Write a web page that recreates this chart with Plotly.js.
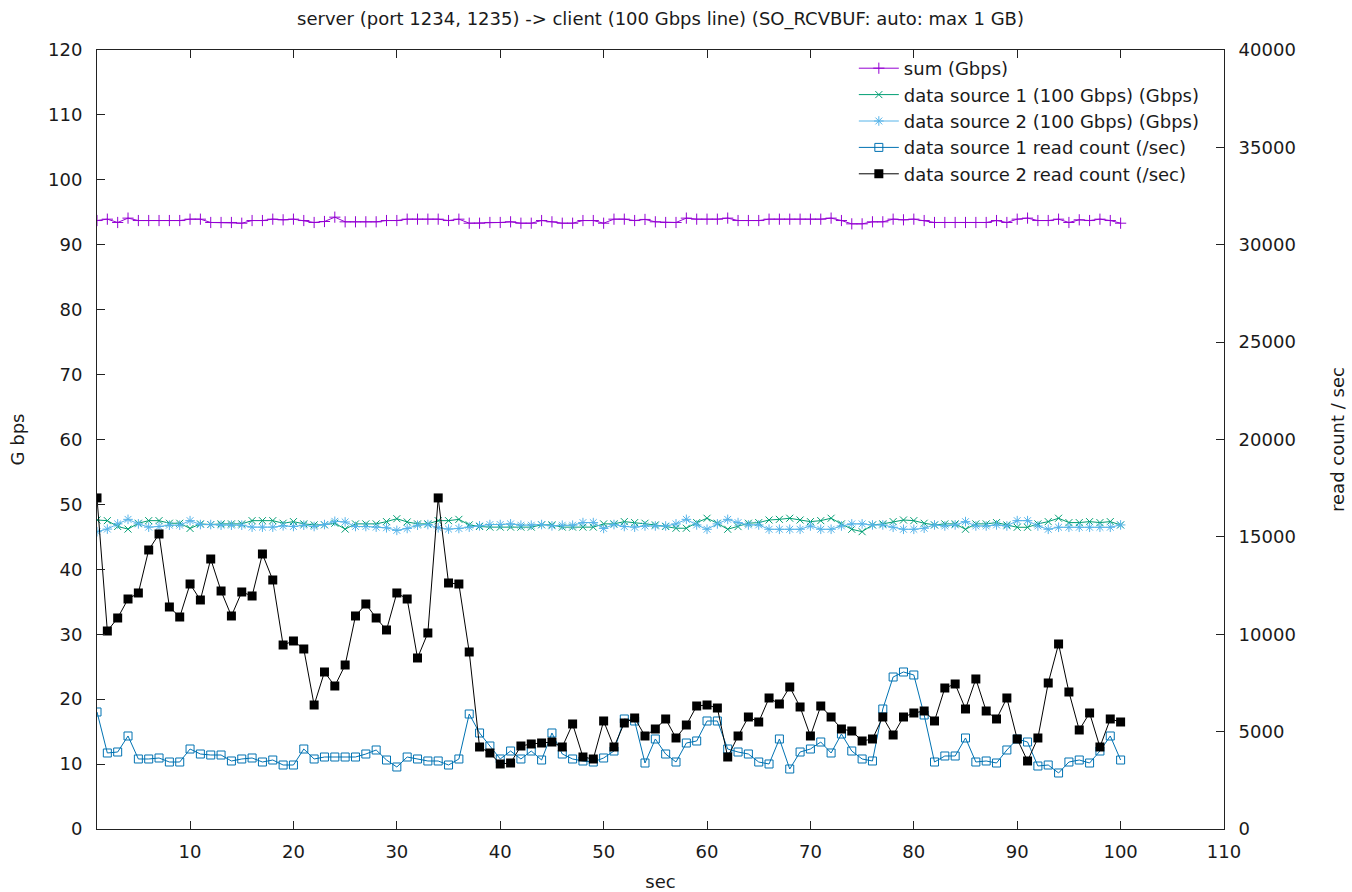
<!DOCTYPE html>
<html>
<head>
<meta charset="utf-8">
<script src="https://cdn.plot.ly/plotly-3.0.1.min.js"></script>
<style>html,body{margin:0;padding:0;background:#fff;}#chart{width:1352px;height:892px;}</style>
</head>
<body>
<div id="chart"></div>
<script>
// x: seconds 1..100
const sec = Array.from({length: 100}, (_, i) => i + 1);

const sumGbps = [
93.73,93.94,93.43,94.10,93.73,93.73,93.73,93.73,93.73,93.94,
93.94,93.43,93.43,93.43,93.32,93.73,93.73,93.94,93.84,93.94,
93.73,93.43,93.58,94.25,93.53,93.53,93.53,93.53,93.73,93.73,
93.94,93.94,93.94,93.94,93.73,93.94,93.32,93.32,93.43,93.43,
93.53,93.32,93.32,93.73,93.53,93.32,93.32,93.73,93.73,93.32,
93.94,93.94,93.73,93.90,93.53,93.43,93.43,94.10,93.94,93.94,
93.94,94.10,93.73,93.73,93.73,93.94,93.94,93.94,93.94,93.94,
93.94,94.10,93.73,93.22,93.22,93.53,93.53,93.94,93.84,93.94,
93.73,93.43,93.43,93.43,93.43,93.43,93.43,93.73,93.43,93.94,
94.10,93.73,93.73,93.94,93.43,93.84,93.73,93.94,93.73,93.32
];

const ds1Gbps = [
47.60,47.50,46.60,46.20,47.10,47.50,47.50,47.10,47.10,46.30,
47.00,46.90,47.00,47.00,47.00,47.50,47.50,47.50,47.10,47.35,
47.00,46.85,46.85,47.10,46.20,47.00,47.00,47.00,47.35,47.80,
47.30,47.00,47.00,47.50,47.50,47.70,46.85,46.60,46.50,46.50,
46.50,46.50,46.50,46.85,46.85,46.50,46.50,46.50,46.50,47.00,
47.00,47.35,47.20,47.10,46.84,46.60,46.33,46.33,47.20,47.87,
47.10,46.17,46.58,47.10,47.20,47.60,47.70,47.87,47.60,47.35,
47.50,47.87,47.00,46.17,45.80,46.84,47.00,47.35,47.60,47.50,
47.10,46.84,47.00,47.00,46.17,47.00,47.00,47.20,46.84,46.48,
46.48,47.00,47.35,47.87,47.20,47.20,47.35,47.20,47.35,46.84
];

const ds2Gbps = [
45.80,46.20,47.00,47.70,47.00,46.50,46.60,46.80,46.80,47.50,
46.90,46.90,46.80,46.80,46.80,46.50,46.50,46.50,46.70,46.60,
46.80,46.60,46.90,47.40,47.30,46.60,46.60,46.50,46.40,46.00,
46.30,46.80,46.90,46.40,46.20,46.30,46.50,46.70,46.90,46.90,
47.00,46.80,46.80,46.90,46.70,46.80,46.80,47.20,47.20,46.30,
46.90,46.60,46.50,46.68,46.68,46.68,47.00,47.70,46.84,46.17,
47.00,47.70,47.20,46.84,46.84,46.17,46.17,46.17,46.17,46.68,
46.17,46.17,46.68,47.00,47.00,46.84,46.84,46.48,46.17,46.17,
46.33,46.84,46.68,46.84,47.35,46.68,46.68,46.84,46.68,47.50,
47.50,46.68,46.17,46.48,46.48,46.48,46.48,46.48,46.48,46.84
];

const ds1ReadCount = [
6008,3903,3954,4776,3595,3595,3646,3440,3440,4108,
3851,3800,3800,3492,3595,3646,3440,3543,3286,3286,
4108,3595,3697,3697,3697,3697,3851,4057,3543,3184,
3697,3595,3492,3492,3286,3595,5905,4930,4262,3595,
4005,3595,4005,3543,4930,3851,3595,3492,3440,3646,
4005,5649,5546,3389,4622,3851,3440,4416,4519,5546,
5546,4108,3954,3851,3440,3338,4622,3081,3954,4108,
4467,3903,4878,4005,3595,3492,6162,7805,8062,7908,
5854,3440,3749,3749,4673,3440,3492,3389,4057,4622,
4467,3235,3286,2876,3440,3543,3389,4005,4776,3543
];

const ds2ReadCount = [
17000,10167,10835,11810,12119,14327,15148,11400,10886,12580,
11759,13864,12221,10938,12170,11965,14121,12786,9448,9654,
9243,6367,8062,7343,8421,10938,11554,10835,10219,12119,
11810,8781,10065,17000,12632,12580,9089,4211,3903,3338,
3389,4262,4365,4416,4467,4211,5392,3697,3595,5546,
4211,5443,5700,4776,5135,5649,4673,5340,6316,6367,
6213,3697,4776,5751,5494,6727,6419,7292,6265,4776,
6316,5751,5135,5032,4519,4622,5751,4827,5751,5957,
6059,5546,7240,7446,6162,7703,6059,5649,6727,4622,
3492,4673,7497,9500,7035,5084,5957,4211,5649,5494
];

const seriesNames = [
  'sum (Gbps)',
  'data source 1 (100 Gbps) (Gbps)',
  'data source 2 (100 Gbps) (Gbps)',
  'data source 1 read count (/sec)',
  'data source 2 read count (/sec)'
];

const FONT = 'DejaVu Sans, sans-serif';
const FS = 18;
const TXT = '#1a1a1a';
const f = {family: FONT, size: FS, color: TXT};

const traces = [
  {x: sec, y: sumGbps, name: seriesNames[0], type: 'scatter', mode: 'lines+markers',
   line: {color: '#9400d3', width: 1}, marker: {symbol: 'cross-thin-open', size: 8, color: '#9400d3', line: {width: 1, color: '#9400d3'}}},
  {x: sec, y: ds1Gbps, name: seriesNames[1], type: 'scatter', mode: 'lines+markers',
   line: {color: '#009e73', width: 1}, marker: {symbol: 'x-thin-open', size: 7, color: '#009e73', line: {width: 1, color: '#009e73'}}},
  {x: sec, y: ds2Gbps, name: seriesNames[2], type: 'scatter', mode: 'lines+markers',
   line: {color: '#56b4e9', width: 1}, marker: {symbol: 'asterisk-open', size: 8, color: '#56b4e9', line: {width: 1, color: '#56b4e9'}}},
  {x: sec, y: ds1ReadCount, name: seriesNames[3], type: 'scatter', mode: 'lines+markers', yaxis: 'y2',
   line: {color: '#0072b2', width: 1}, marker: {symbol: 'square-open', size: 8, color: '#0072b2', line: {width: 1, color: '#0072b2'}}},
  {x: sec, y: ds2ReadCount, name: seriesNames[4], type: 'scatter', mode: 'lines+markers', yaxis: 'y2',
   line: {color: '#000000', width: 1}, marker: {symbol: 'square', size: 9, color: '#000000'}}
];

const layout = {
  width: 1352, height: 892,
  paper_bgcolor: '#ffffff', plot_bgcolor: '#ffffff',
  margin: {l: 97, r: 128, t: 50, b: 63, pad: 0},
  font: f,
  title: {text: 'server (port 1234, 1235) -> client (100 Gbps line) (SO_RCVBUF: auto: max 1 GB)',
          font: f, x: 0.5, xref: 'paper', xanchor: 'center', y: 0.979, yanchor: 'middle', yref: 'container'},
  showlegend: true,
  legend: {x: 0.983, xanchor: 'right', y: 1.0, yanchor: 'top', bgcolor: 'rgba(0,0,0,0)',
           font: f, tracegroupgap: 0, itemwidth: 40},
  xaxis: {range: [1, 110], tick0: 0, dtick: 10, ticks: 'inside', ticklen: 8, tickcolor: '#222',
          showline: true, linecolor: '#222', linewidth: 1, mirror: 'ticks', showgrid: false, zeroline: false,
          title: {text: 'sec', font: f, standoff: 19},
          tickfont: f, ticklabelstandoff: 6},
  yaxis: {range: [0, 120], dtick: 10, ticks: 'inside', ticklen: 8, tickcolor: '#222',
          showline: true, linecolor: '#222', linewidth: 1, showgrid: false, zeroline: false,
          title: {text: 'G bps', font: f, standoff: 18},
          tickfont: f, ticklabelstandoff: 10},
  yaxis2: {range: [0, 40000], dtick: 5000, tickformat: 'd', ticks: 'inside', ticklen: 8, tickcolor: '#222', overlaying: 'y', side: 'right',
          showline: true, linecolor: '#222', linewidth: 1, showgrid: false, zeroline: false,
          title: {text: 'read count / sec', font: f, standoff: 36},
          tickfont: f, ticklabelstandoff: 10}
};

Plotly.newPlot('chart', traces, layout, {staticPlot: true, displayModeBar: false});
</script>
</body>
</html>
